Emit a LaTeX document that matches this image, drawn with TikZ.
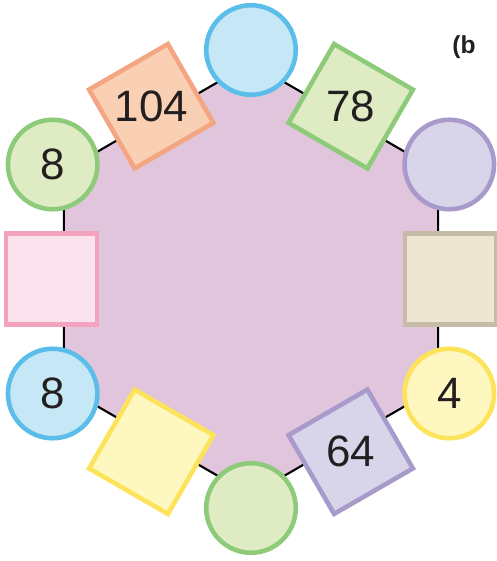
\documentclass[tikz,border=0pt]{standalone}
\usepackage{fontspec}
\setmainfont{Liberation Sans}
\usepackage{xcolor}
\usepackage{tikz}
\usetikzlibrary{shapes.geometric}

\definecolor{hexfill}{HTML}{E0C5DD}
\definecolor{bluefill}{HTML}{C6E7F5}
\definecolor{blueline}{HTML}{5BBDE9}
\definecolor{greenfill}{HTML}{DEEBC3}
\definecolor{greenline}{HTML}{8DCB7B}
\definecolor{lilacfill}{HTML}{D8D5EA}
\definecolor{lilacline}{HTML}{A89BCB}
\definecolor{yellowfill}{HTML}{FEF8C0}
\definecolor{yellowline}{HTML}{FCE35A}
\definecolor{peachfill}{HTML}{FAD0B4}
\definecolor{peachline}{HTML}{F4A582}
\definecolor{pinkfill}{HTML}{FAE3ED}
\definecolor{pinkline}{HTML}{F3A3BE}
\definecolor{sandfill}{HTML}{EEE5D2}
\definecolor{sandline}{HTML}{C5BBA6}
\definecolor{numtext}{HTML}{231F20}

\begin{document}
\begin{tikzpicture}[
    ball/.style={circle, draw, line width=2.6pt, minimum size=1.79cm, inner sep=0pt,
                 font=\fontsize{25}{30}\selectfont, text=numtext},
    tile/.style={rectangle, draw, line width=2.6pt, minimum size=1.82cm, inner sep=0pt},
    num/.style={font=\fontsize{25}{30}\selectfont, text=numtext, inner sep=0pt},
    hexedge/.style={draw=black, line width=1.2pt, fill=hexfill},
    tag/.style={font=\fontsize{14}{16}\selectfont\bfseries, text=numtext}
]
\useasboundingbox (-5.02,-5.64) rectangle (4.90,5.58);

%% ── Hexagon corners (radius 4.32) ────────────────────────────────────
\coordinate (v1) at ( 90:4.32);
\coordinate (v2) at (150:4.32);
\coordinate (v3) at (210:4.32);
\coordinate (v4) at (270:4.32);
\coordinate (v5) at (330:4.32);
\coordinate (v6) at ( 30:4.32);

\draw[hexedge] (v1) -- (v2) -- (v3) -- (v4) -- (v5) -- (v6) -- cycle;

%% ── Circles at the corners ───────────────────────────────────────────
\node[ball, draw=blueline,   fill=bluefill]   (ctop) at ( 90:4.58) {};
\node[ball, draw=greenline,  fill=greenfill]  (cul)  at (150:4.58) {8};
\node[ball, draw=blueline,   fill=bluefill]   (cll)  at (210:4.58) {8};
\node[ball, draw=greenline,  fill=greenfill]  (cbot) at (270:4.58) {};
\node[ball, draw=yellowline, fill=yellowfill] (clr)  at (330:4.58) {4};
\node[ball, draw=lilacline,  fill=lilacfill]  (cur)  at ( 30:4.58) {};

%% ── Squares on the sides (tilted along the side) ─────────────────────
\node[tile, rotate=30,  draw=peachline,  fill=peachfill]  (sqtl)    at (120:3.99) {};
\node[tile, rotate=-30, draw=greenline,  fill=greenfill]  (sqtr)    at ( 60:3.99) {};
\node[tile,             draw=pinkline,   fill=pinkfill]   (sqleft)  at (180:3.99) {};
\node[tile,             draw=sandline,   fill=sandfill]   (sqright) at (  0:3.99) {};
\node[tile, rotate=-30, draw=yellowline, fill=yellowfill] (sqbl)    at (240:3.99) {};
\node[tile, rotate=30,  draw=lilacline,  fill=lilacfill]  (sqbr)    at (300:3.99) {};

%% numbers stay upright
\node[num] (n104) at (sqtl.center) {104};
\node[num] (n78)  at (sqtr.center) {78};
\node[num] (n64)  at (sqbr.center) {64};

%% ── Part label ───────────────────────────────────────────────────────
\node[tag] (part) at (4.26,4.64) {(b};

\end{tikzpicture}
\end{document}
